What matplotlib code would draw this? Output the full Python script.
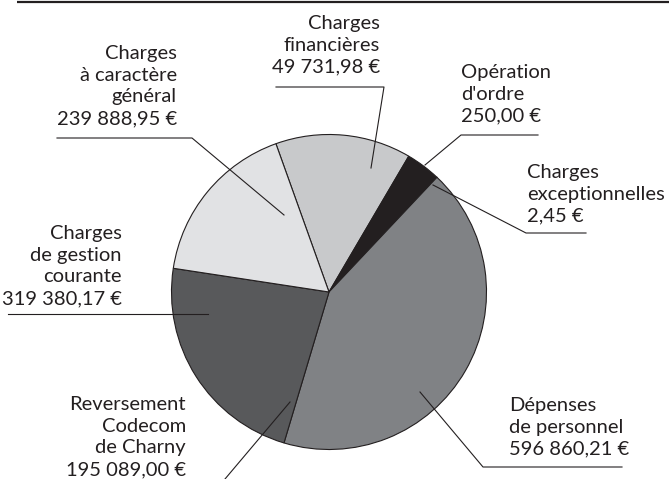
import matplotlib
matplotlib.use("Agg")
import matplotlib.pyplot as plt

plt.rcParams['font.family'] = ['Lato', 'DejaVu Sans']

W, H = 669, 479
encre = '#231f20'

# parts dans le sens horaire, en partant du haut du camembert
postes = ['Reversement Codecom de Charny', 'Charges financières', "Opération d'ordre",
          'Charges exceptionnelles', 'Dépenses de personnel',
          'Charges de gestion courante', 'Charges à caractère général']
montants = [195089.00, 49731.98, 250.00, 2.45, 596860.21, 319380.17, 239888.95]
couleurs = ['#c8c9cb', '#231f20', '#ffffff', '#ffffff', '#808285', '#58595b', '#e1e2e4']

# étiquettes : lignes, x, 1re ligne de base (px depuis le haut), alignement, ligne de rappel
etiquettes = [
    (['Charges', 'financières', '49 731,98 €'], 380, 29, 'right',
     [(276, 87), (384, 87), (371, 168)]),
    (['Charges', 'à caractère', 'général', '239 888,95 €'], 177, 59, 'right',
     [(57, 138), (192, 138), (284, 215)]),
    (['Opération', "d'ordre", '250,00 €'], 461, 78, 'left',
     [(538, 135), (461, 135), (425, 165)]),
    (['Charges', 'exceptionnelles', '2,45 €'], 527, 178, 'left',
     [(586, 233), (526, 233), (433, 185)]),
    (['Charges', 'de gestion', 'courante', '319 380,17 €'], 122, 239, 'right',
     [(8, 314), (208, 314)]),
    (['Reversement', 'Codecom', 'de Charny', '195 089,00 €'], 186, 410, 'right',
     [(290, 402), (225, 479)]),
    (['Dépenses', 'de personnel', '596 860,21 €'], 509, 411, 'left',
     [(622, 467), (483, 467), (420, 392)]),
]

fig = plt.figure(figsize=(W / 100, H / 100), dpi=100)
ax = fig.add_axes([0, 0, 1, 1])

ax.pie(montants, colors=couleurs, center=(329, H - 292), radius=157.5,
       startangle=109.7, counterclock=False,
       wedgeprops=dict(edgecolor=encre, linewidth=0.8))

# filet en haut
ax.plot([17, W], [H - 2, H - 2], color=encre, lw=1.6, solid_capstyle='butt')

for lignes, x, y0, ha, rappel in etiquettes:
    for i, t in enumerate(lignes):
        ax.text(x, H - (y0 + i * 21.7), t, ha=ha, va='baseline',
                fontsize=14.5, color=encre)
    xs = [p[0] for p in rappel]
    ys = [H - p[1] for p in rappel]
    ax.plot(xs, ys, color=encre, lw=0.8)

ax.set_xlim(0, W)
ax.set_ylim(0, H)
ax.set_aspect('equal')
ax.axis('off')

fig.savefig('out.png', dpi=100)
